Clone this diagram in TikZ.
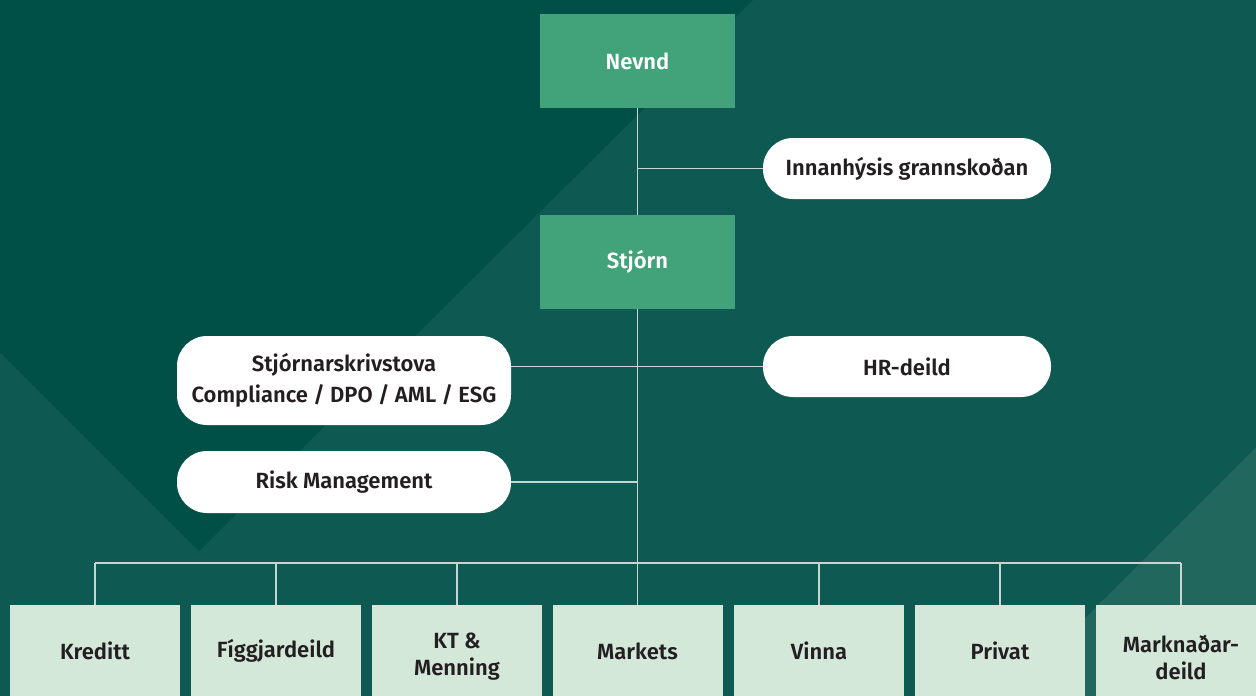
\documentclass[tikz,border=0pt]{standalone}
\usepackage{fontspec}
\setmainfont{Fira Sans}[BoldFont={* SemiBold}]

\begin{document}

\definecolor{bgdark}{HTML}{005048}
\definecolor{bgmid}{HTML}{0E5A52}
\definecolor{bglight}{HTML}{21675D}
\definecolor{topgreen}{HTML}{42A27A}
\definecolor{deptgreen}{HTML}{D3E8D9}
\definecolor{txtdark}{HTML}{231F20}
\definecolor{linecol}{HTML}{C5D6D1}

\begin{tikzpicture}[x=1pt,y=-1pt,
  topbox/.style={fill=topgreen, minimum width=195pt, minimum height=94pt, inner sep=0pt, text=white, font=\bfseries\fontsize{22}{25}\selectfont},
  pill/.style={fill=white, rounded corners=30pt, minimum width=288pt, minimum height=61pt, inner sep=0pt, text=txtdark, align=center, font=\bfseries\fontsize{22}{31}\selectfont},
  dept/.style={fill=deptgreen, minimum width=170pt, minimum height=92pt, inner sep=0pt, text=txtdark, align=center, font=\bfseries\fontsize{22}{27}\selectfont},
  dept2/.style={dept, minimum height=104pt},
  conn/.style={draw=linecol, line width=1.1pt}]
\useasboundingbox (0,0) rectangle (1256,696);
\clip (0,0) rectangle (1256,696);
\fill[bgmid] (0,0) rectangle (1256,696);
\fill[bgdark] (0,0) -- (753,0) -- (199,551) -- (0,352) -- cycle;
\fill[bglight] (1256,447) -- (1256,696) -- (1007,696) -- cycle;

\node[topbox] (nevnd) at (637.5,61) {Nevnd};
\node[topbox] (stjorn) at (637.5,262) {Stjórn};
\node[pill] (innan) at (907,168.5) {Innanhýsis grannskoðan};
\node[pill] (hr) at (907,366.5) {HR-deild};
\node[pill, minimum width=334pt, minimum height=89pt] (skriv) at (344,380.5) {Stjórnarskrivstova\\Compliance / DPO / AML / ESG};
\node[pill, minimum width=334pt, minimum height=62pt] (risk) at (344,482) {Risk Management};

\node[dept] (kreditt) at (95,651) {Kreditt};
\node[dept] (figg) at (276,651) {Fíggjardeild};
\node[dept2] (kt) at (457,657) {KT \&\\Menning};
\node[dept] (markets) at (637.5,651) {Markets};
\node[dept] (vinna) at (819,651) {Vinna};
\node[dept] (privat) at (1000,651) {Privat};
\node[dept2] (markn) at (1181,657) {Marknaðar-\\deild};

\coordinate (bus) at (637.5,563);

\draw[conn] (nevnd.south) -- (stjorn.north);
\draw[conn] (stjorn.south) -- (markets.north);
\draw[conn] (nevnd.south |- innan.west) -- (innan.west);
\draw[conn] (skriv.east |- hr.west) -- (hr.west);
\draw[conn] (risk.east) -- (risk.east -| stjorn.south);
\draw[conn] (kreditt.north |- bus) -- (markn.north |- bus);
\foreach \d in {kreditt,figg,kt,vinna,privat,markn}
  \draw[conn] (\d.north |- bus) -- (\d.north);
\end{tikzpicture}

\end{document}
